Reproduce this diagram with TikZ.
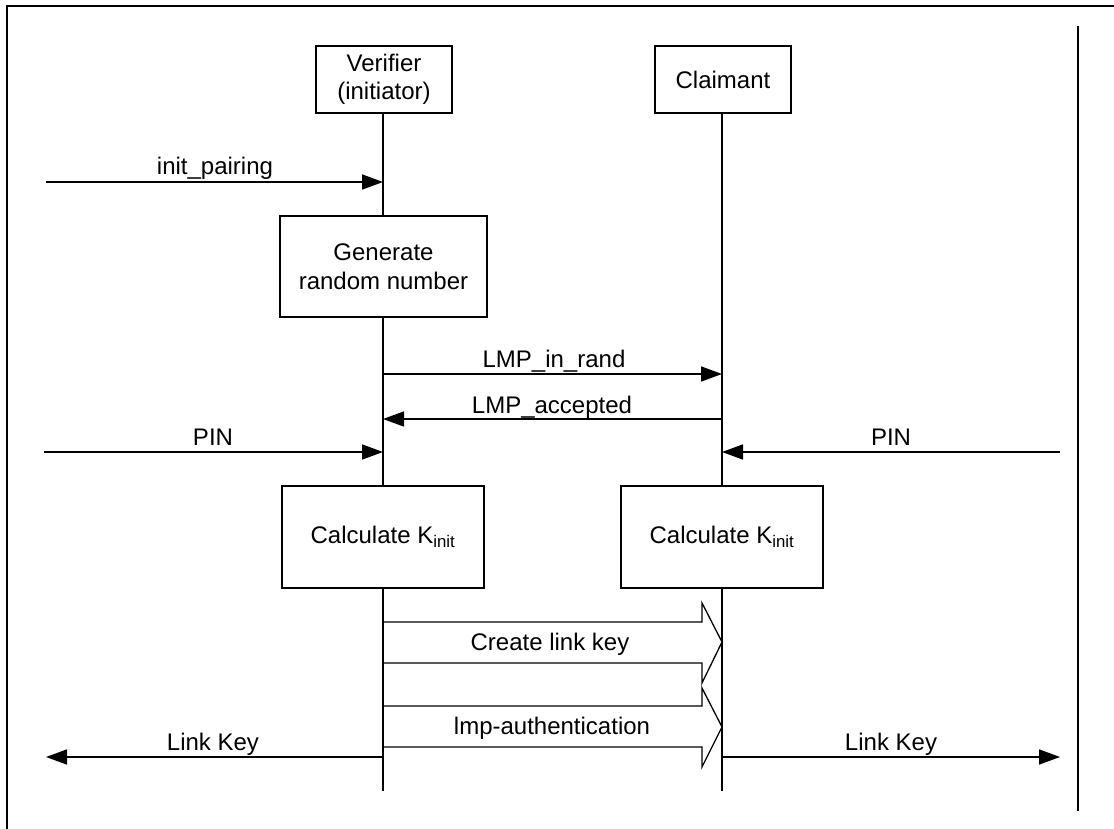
\documentclass[tikz,border=0pt]{standalone}
\usepackage{fontspec}
\setmainfont{Liberation Sans}
\usetikzlibrary{arrows.meta}
\begin{document}
\begin{tikzpicture}[x=1pt,y=-1pt,
  box/.style={draw,line width=1.6pt,fill=white,align=center,inner sep=0pt,font=\fontsize{24}{28.5}\selectfont},
  life/.style={line width=1.6pt},
  msg/.style={line width=1.6pt,-{Triangle[length=21pt,width=15pt]}},
  lbl/.style={font=\fontsize{24}{28}\selectfont,inner sep=0pt,anchor=base},
  hollow/.style={line width=1.3pt,line join=miter}]
\useasboundingbox (0,0) rectangle (1114,829);
% frame
\coordinate (fbl) at (7,829); \coordinate (ftl) at (7,6); \coordinate (ftr) at (1114,6);
\draw[line width=2.6pt] (fbl) -- (ftl) -- (ftr);
\coordinate (rt) at (1077.5,26); \coordinate (rb) at (1077.5,811);
\draw[line width=2pt] (rt) -- (rb);
% lifelines
\coordinate (v0) at (383,113); \coordinate (v1) at (383,791);
\coordinate (c0) at (722,113); \coordinate (c1) at (722,791);
\draw[life] (v0) -- (v1);
\draw[life] (c0) -- (c1);
% boxes
\node[box,minimum width=136pt,minimum height=67pt] (ver) at (384,79.5) {Verifier\\(initiator)};
\node[box,minimum width=136pt,minimum height=67pt] (cla) at (723,79.5) {Claimant};
\node[box,minimum width=207pt,minimum height=101pt] (gen) at (383.5,266.5) {Generate\\random number};
\node[box,minimum width=202pt,minimum height=102pt] (calv) at (383,537) {Calculate K\textsubscript{init}};
\node[box,minimum width=202pt,minimum height=102pt] (calc) at (722,537) {Calculate K\textsubscript{init}};
% messages
\coordinate (ipS) at (46,182); \coordinate (ipE) at (383,182);
\draw[msg] (ipS) -- (ipE);
\node[lbl] (ipL) at (215,175) {init\_pairing};
\coordinate (irS) at (383,374); \coordinate (irE) at (722,374);
\draw[msg] (irS) -- (irE);
\node[lbl] (irL) at (554,367) {LMP\_in\_rand};
\coordinate (acS) at (722,419); \coordinate (acE) at (383,419);
\draw[msg] (acS) -- (acE);
\node[lbl] (acL) at (552,413) {LMP\_accepted};
\coordinate (p1S) at (44,452); \coordinate (p1E) at (383,452);
\draw[msg] (p1S) -- (p1E);
\node[lbl] (p1L) at (213,445) {PIN};
\coordinate (p2S) at (1060,452); \coordinate (p2E) at (722,452);
\draw[msg] (p2S) -- (p2E);
\node[lbl] (p2L) at (891,445) {PIN};
% hollow arrows
\coordinate (h1a) at (383,622); \coordinate (h1b) at (702,622); \coordinate (h1c) at (702,603);
\coordinate (h1t) at (722,642); \coordinate (h1d) at (702,683); \coordinate (h1e) at (702,663);
\coordinate (h1f) at (383,663);
\draw[hollow] (h1a) -- (h1b) -- (h1c) -- (h1t) -- (h1d) -- (h1e) -- (h1f);
\node[lbl] (h1L) at (550,650) {Create link key};
\coordinate (h2a) at (383,706); \coordinate (h2b) at (702,706); \coordinate (h2c) at (702,688);
\coordinate (h2t) at (722,727); \coordinate (h2d) at (702,767); \coordinate (h2e) at (702,747);
\coordinate (h2f) at (383,747);
\draw[hollow] (h2a) -- (h2b) -- (h2c) -- (h2t) -- (h2d) -- (h2e) -- (h2f);
\node[lbl] (h2L) at (552,734) {lmp-authentication};
% link key
\coordinate (k1S) at (383,757); \coordinate (k1E) at (46,757);
\draw[msg] (k1S) -- (k1E);
\node[lbl] (k1L) at (213,750) {Link Key};
\coordinate (k2S) at (722,757); \coordinate (k2E) at (1060,757);
\draw[msg] (k2S) -- (k2E);
\node[lbl] (k2L) at (891,750) {Link Key};
\end{tikzpicture}
\end{document}
